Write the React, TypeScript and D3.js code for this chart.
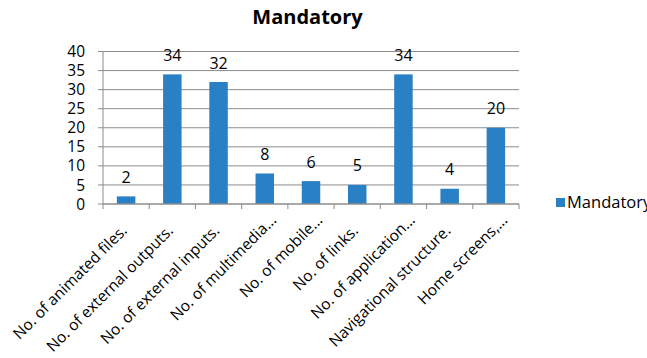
import React from "react";
import * as d3 from "d3";

const categories = [
  "No. of animated files.",
  "No. of external outputs.",
  "No. of external inputs.",
  "No. of multimedia...",
  "No. of mobile...",
  "No. of links.",
  "No. of application...",
  "Navigational structure.",
  "Home screens,...",
];
const values = [2, 34, 32, 8, 6, 5, 34, 4, 20];
const yTicks = [0, 5, 10, 15, 20, 25, 30, 35, 40];
const seriesName = "Mandatory";
const title = "Mandatory";

const W = 647;
const H = 358;
const left = 103;
const right = 519;
const top = 51.5;
const bottom = 204;
const FONT = "'Open Sans', 'Noto Sans', sans-serif";
const BAR = "#2A80C4";
const GRID = "#8C8C8C";

export default function App() {
  const x = d3.scaleBand<string>().domain(categories).range([left, right]).paddingInner(0.6).paddingOuter(0.3);
  const band = d3.scaleBand<string>().domain(categories).range([left, right]);
  const y = d3.scaleLinear().domain([0, 40]).range([bottom, top]);

  return (
    <svg width={W} height={H} style={{ position: "absolute", left: 0, top: 0 }} fontFamily={FONT}>
      <rect width={W} height={H} fill="#fff" />
      <text x={307.5} y={24} textAnchor="middle" fontSize={20} fontWeight="bold" fill="#000">
        {title}
      </text>
      {yTicks.map((t) => (
        <g key={t}>
          {t > 0 && <line x1={left} x2={right} y1={y(t)} y2={y(t)} stroke={GRID} strokeWidth={1} />}
          <line x1={left - 5} x2={left} y1={y(t)} y2={y(t)} stroke={GRID} strokeWidth={1} />
          <text x={left - 18} y={y(t)} dy="0.36em" textAnchor="end" fontSize={15.5} fill="#000">
            {t}
          </text>
        </g>
      ))}
      <line x1={left} x2={left} y1={top} y2={bottom} stroke={GRID} strokeWidth={1} />
      {categories.map((c, i) => (
        <rect
          key={c}
          x={x(c)!}
          y={y(values[i])}
          width={x.bandwidth()}
          height={bottom - y(values[i])}
          fill={BAR}
        />
      ))}
      <line x1={left} x2={right} y1={bottom} y2={bottom} stroke={GRID} strokeWidth={1.5} />
      {categories.map((c, i) => (
        <line key={"t" + i} x1={band(c)!} x2={band(c)!} y1={bottom} y2={bottom + 5} stroke={GRID} strokeWidth={1} />
      ))}
      <line x1={right} x2={right} y1={bottom} y2={bottom + 5} stroke={GRID} strokeWidth={1} />
      {categories.map((c, i) => (
        <text
          key={"v" + i}
          x={x(c)! + x.bandwidth() / 2}
          y={y(values[i]) - 13.5}
          textAnchor="middle"
          fontSize={16}
          fill="#000"
        >
          {values[i]}
        </text>
      ))}
      {categories.map((c, i) => {
        const cx = band(c)! + band.bandwidth() / 2 + 12.5;
        const cy = bottom + 17;
        const shift = c.endsWith("...") ? 0 : -15;
        return (
          <text
            key={"l" + i}
            transform={`translate(${cx},${cy}) rotate(-45)`}
            textAnchor="end"
            x={shift}
            fontSize={15.5}
            fill="#000"
          >
            {c}
          </text>
        );
      })}
      <rect x={556} y={198} width={9} height={9} fill={BAR} />
      <text x={567} y={207.5} fontSize={16.5} fill="#000">
        {seriesName}
      </text>
    </svg>
  );
}
